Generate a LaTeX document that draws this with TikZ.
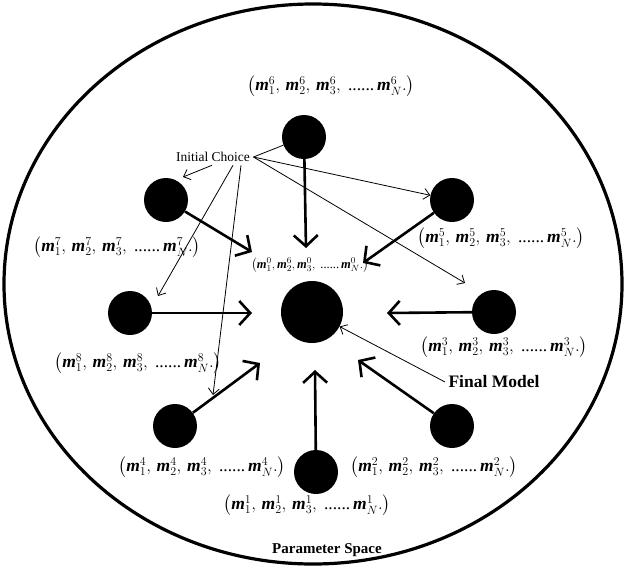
\documentclass[tikz,border=0pt]{standalone}
\usepackage{amsmath}
\usepackage{fontspec}
\setmainfont{Liberation Serif}
\usetikzlibrary{arrows.meta}

\newcommand{\mm}{\text{\bfseries\itshape m}}
\newcommand{\modelvec}[1]{$\bigl(\mm^{#1}_{1},\,\mm^{#1}_{2},\,\mm^{#1}_{3},\ \text{......}\,\mm^{#1}_{N}.\bigr)$}

\tikzset{
  dot/.style={circle, fill=black, inner sep=0pt, minimum size=44pt},
  bigdot/.style={circle, fill=black, inner sep=0pt, minimum size=62pt},
  heavy/.style={line width=2.6pt, -{Straight Barb[length=11pt,width=24pt,line width=2.6pt]}},
  light/.style={line width=0.8pt, -{Straight Barb[length=6pt,width=11pt,line width=0.8pt]}},
  lbl/.style={inner sep=1pt, font=\fontsize{17.5}{20}\selectfont},
}

\begin{document}
\begin{tikzpicture}[x=1pt,y=-1pt]
  \useasboundingbox (0,0) rectangle (625,574);

  % Parameter space
  \draw[line width=3.2pt] (313,284) ellipse [x radius=309, y radius=280];
  \node[font=\fontsize{15}{18}\selectfont\bfseries] (ps) at (327,550) {Parameter Space};

  % Models
  \node[bigdot] (m0) at (312,312) {};
  \node[dot] (m1) at (316,472) {};
  \node[dot] (m2) at (452,426) {};
  \node[dot] (m3) at (494,312) {};
  \node[dot] (m4) at (175,426) {};
  \node[dot] (m5) at (452,200) {};
  \node[dot] (m6) at (304,137) {};
  \node[dot] (m7) at (166,200) {};
  \node[dot] (m8) at (130,313) {};

  % Arrow ends near the final model
  \coordinate (t1) at (315,370);
  \coordinate (t2) at (358,360);
  \coordinate (t3) at (387,313);
  \coordinate (t4) at (260,363);
  \coordinate (t5) at (363,263);
  \coordinate (t6) at (306,248);
  \coordinate (t7) at (252,252);
  \coordinate (t8) at (252,313);

  \foreach \i in {1,...,8}
    \draw[heavy] (m\i) -- (t\i);

  % Labels
  \node[lbl] (l1) at (307,505) {\modelvec{1}};
  \node[lbl] (l2) at (434,467) {\modelvec{2}};
  \node[lbl] (l3) at (504,347) {\modelvec{3}};
  \node[lbl] (l4) at (202,467) {\modelvec{4}};
  \node[lbl] (l5) at (501,238) {\modelvec{5}};
  \node[lbl] (l6) at (331,86) {\modelvec{6}};
  \node[lbl] (l7) at (117,247) {\modelvec{7}};
  \node[lbl] (l8) at (138,363) {\modelvec{8}};
  \node[lbl, font=\fontsize{12.5}{14}\selectfont] (l0) at (310,265)
    {$\bigl(\mm^{0}_{1},\mm^{6}_{2},\mm^{0}_{3},\ \text{......}\,\mm^{0}_{N}.\bigr)$};

  % Initial choice
  \node[font=\fontsize{13.5}{16}\selectfont] (ic) at (213,157) {Initial Choice};
  \coordinate (c3) at (465,283);
  \coordinate (c4) at (213,395);
  \coordinate (c7) at (183,177);
  \coordinate (c8) at (158,296);
  \draw[light] ([xshift=-1pt]ic.south) -- (c7);
  \draw[line width=0.8pt] (ic.east) -- (m6);
  \draw[light] (ic.east) -- (m5);
  \draw[light] (ic.east) -- (c3);
  \draw[light] ([xshift=20pt]ic.south) -- (c8);
  \draw[light] ([xshift=28pt]ic.south) -- (c4);

  % Final model
  \node[font=\fontsize{17.5}{20}\selectfont\bfseries] (fm) at (494,382) {Final Model};
  \draw[light] (fm.west) -- (m0);
\end{tikzpicture}
\end{document}
